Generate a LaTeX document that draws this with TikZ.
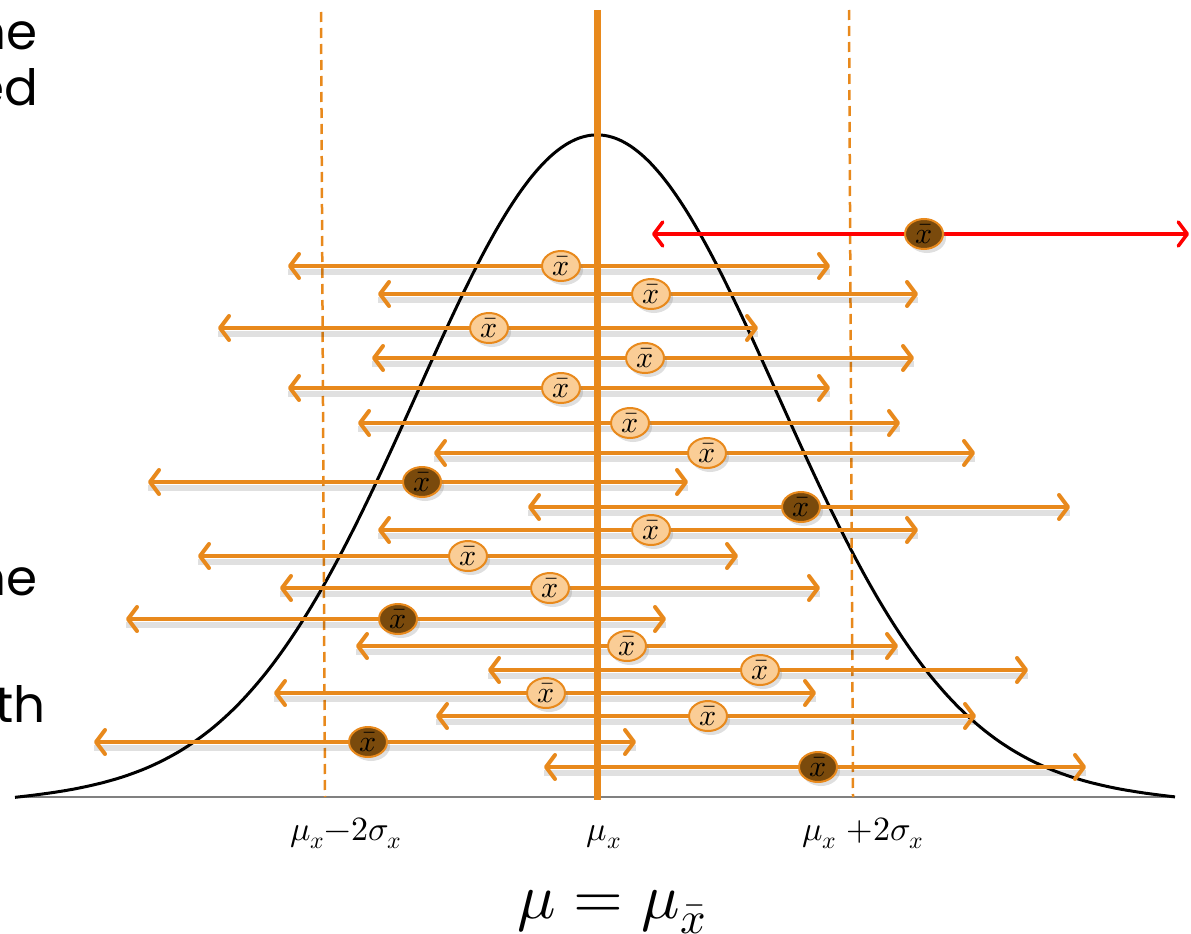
\documentclass[tikz,border=0pt]{standalone}
\usepackage{fontspec}
\usepackage{unicode-math}
\newfontfamily\gothic{Poppins}
\usetikzlibrary{arrows.meta,shapes.geometric,shadows}
\definecolor{ora}{HTML}{E8891C}
\definecolor{lt}{HTML}{FACD96}
\definecolor{dk}{HTML}{7A4A0C}
\definecolor{rd}{HTML}{FF0000}
\tikzset{
  arr/.style={draw=ora, line width=4pt, {Straight Barb[length=9pt,width=24pt,round]}-{Straight Barb[length=9pt,width=24pt,round]}},
  redarr/.style={draw=rd, line width=3.5pt, {Straight Barb[length=9pt,width=24pt,round]}-{Straight Barb[length=9pt,width=24pt,round]}},
  shad/.style={draw=black, opacity=0.12, line width=6pt},
  mk/.style={ellipse, draw=ora, line width=2pt, minimum width=38pt, minimum height=30pt, inner sep=0pt,
    font=\fontsize{30}{30}\selectfont, drop shadow={opacity=0.25, shadow xshift=3pt, shadow yshift=-4pt}},
  mkl/.style={mk, fill=lt},
  mkd/.style={mk, fill=dk},
  dashline/.style={draw=ora, line width=2.5pt, dash pattern=on 10pt off 6pt},
  sidetext/.style={anchor=base east, inner sep=0pt, font=\gothic\fontsize{50}{50}\selectfont},
  axlabel/.style={anchor=base, inner sep=0pt, font=\fontsize{34}{34}\selectfont}
}
\begin{document}
\begin{tikzpicture}[x=1pt,y=-1pt]
\useasboundingbox (0,0) rectangle (1191,934);
% side texts (cut off at the left edge, as in the reference)
\node[sidetext] (t1) at (38,50) {ne};
\node[sidetext] (t2) at (38,105) {ed};
\node[sidetext] (t3) at (38,595) {ne};
\node[sidetext] (t4) at (46,722) {th};
% axis and curve
\coordinate (a0) at (15,797);
\coordinate (a1) at (1175,797);
\draw[gray, line width=2.5pt] (a0) -- (a1);
\draw[black, line width=3pt, line join=round] plot[domain=15:1175, samples=240, smooth] (\x, {797 - 662*exp(-0.5*((\x-597)/181)^2) + 4*(abs(\x-597)/580)^6});
% dashed lines
\coordinate (d1t) at (321,12);
\coordinate (d1b) at (325,797);
\coordinate (d2t) at (849,10);
\coordinate (d2b) at (853,797);
\draw[dashline] (d1t) -- (d1b);
\draw[dashline] (d2t) -- (d2b);
% red arrow
\coordinate (Lr) at (652,234);
\coordinate (Rr) at (1189,234);
\draw[redarr] (Lr) -- (Rr);
% orange arrows
\foreach \ya/\xa/\xb [count=\i] in {
  266/288/830, 294/378/918, 328/218/758, 358/372/914,
  388/288/830, 423/358/900, 453/434/975, 482/148/688,
  507/528/1070, 530/378/918, 556/198/738, 588/280/820,
  619/126/666, 646/356/898, 670/488/1028, 693/274/816,
  716/436/976, 742/94/636, 767/544/1086}{
  \coordinate (L\i) at (\xa,\ya);
  \coordinate (R\i) at (\xb,\ya);
  \draw[shad] ([yshift=-6pt]L\i) -- ([yshift=-6pt]R\i);
  \draw[arr] (L\i) -- (R\i);
}
% central line
\coordinate (ct) at (597,10);
\coordinate (cb) at (597,800);
\draw[draw=ora, line width=7pt] (ct) -- (cb);
% markers
\node[mkd] (mr) at (924,234) {$\bar{x}$};
\foreach \ya/\xm/\st [count=\i] in {
  266/561/mkl, 294/651/mkl, 328/489/mkl, 358/645/mkl,
  388/561/mkl, 423/630/mkl, 453/707/mkl, 482/422/mkd,
  507/801/mkd, 530/651/mkl, 556/468/mkl, 588/550/mkl,
  619/398/mkd, 646/627/mkl, 670/760/mkl, 693/546/mkl,
  716/708/mkl, 742/368/mkd, 767/818/mkd}{
  \node[\st] (m\i) at (\xm,\ya) {$\bar{x}$};
}
% labels
\node[axlabel] (lab1) at (346,840) {$\mu_x{-}2\sigma_x$};
\node[axlabel] (lab2) at (604,840) {$\mu_x$};
\node[axlabel] (lab3) at (863,840) {$\mu_x\;{+}2\sigma_x$};
\node[anchor=base, inner sep=0pt, font=\fontsize{64}{64}\selectfont] (lab4) at (612,918) {$\mu = \mu_{\bar{x}}$};
\end{tikzpicture}
\end{document}
